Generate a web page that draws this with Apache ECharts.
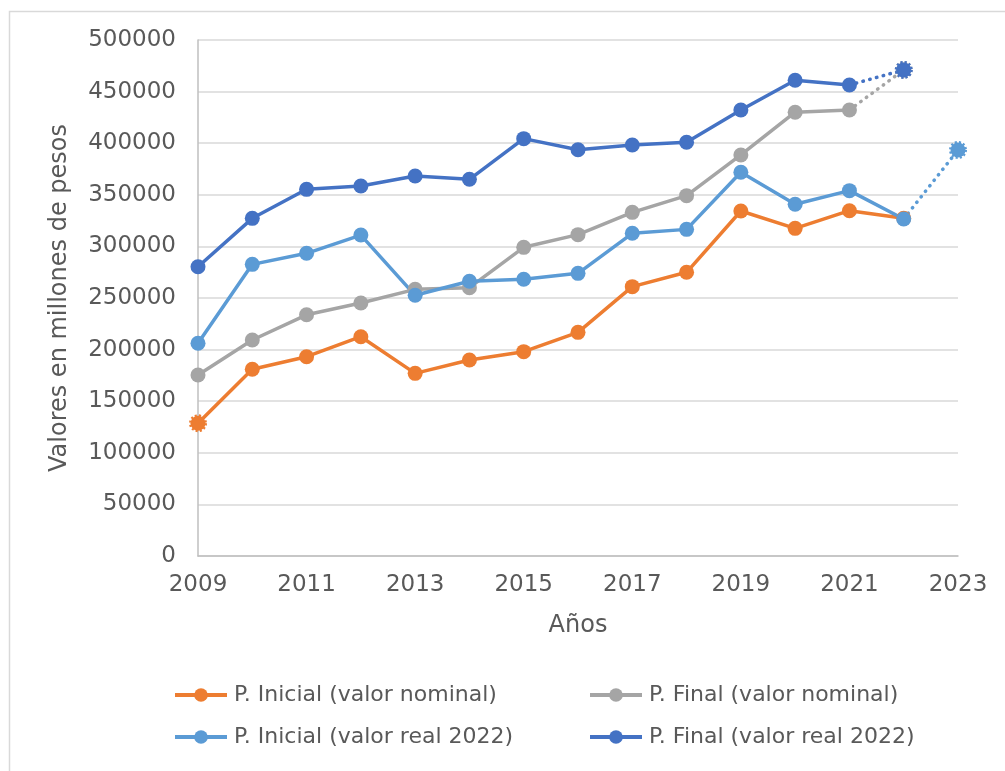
<!DOCTYPE html>
<html>
<head>
<meta charset="utf-8">
<script src="https://cdn.jsdelivr.net/npm/echarts@6/dist/echarts.min.js"></script>
<style>html,body{margin:0;padding:0;background:#fff;}#c{width:1005px;height:771px;}</style>
</head>
<body>
<div id="c"></div>
<script>
const years = [2009,2010,2011,2012,2013,2014,2015,2016,2017,2018,2019,2020,2021,2022];
const xTicks = [2009,2011,2013,2015,2017,2019,2021,2023];
const yTicks = [0,50000,100000,150000,200000,250000,300000,350000,400000,450000,500000];
const seriesNames = ['P. Inicial (valor nominal)','P. Final (valor nominal)','P. Inicial (valor real 2022)','P. Final (valor real 2022)'];
const inicialNominal = [128600,180900,193100,212500,177000,189900,198000,216700,261000,274900,334300,317500,334600,327200];
const finalNominal   = [175400,209300,233700,245200,258400,260000,299100,311400,333000,349200,388600,430000,432200];
const inicialReal    = [206100,282600,293300,311000,252600,266200,268100,273900,312700,316500,371800,340800,354000,326600];
const finalReal      = [280300,327200,355300,358500,368200,365000,404400,393700,398300,400900,432200,461000,456400];
// projected (dotted) segments
const finalNominalProjYears = [2021,2022];
const finalNominalProj = [432200,471000];
const finalRealProjYears = [2021,2022];
const finalRealProj = [456400,471000];
const inicialRealProjYears = [2022,2023];
const inicialRealProj = [326600,393400];

const colors = ['#ED7D31','#A5A5A5','#5B9BD5','#4472C4'];
const FONT = 'DejaVu Sans';
const TXT = '#595959';

function pairs(xs, ys){ return ys.map((v,i)=>[xs[i], v]); }

function solid(name, vals, color, dottedFirst){
  const data = pairs(years, vals).map((p,i)=>{
    if (dottedFirst && i===0) return {value:p, itemStyle:{borderType:[2,2], borderWidth:3, borderColor:color}};
    return p;
  });
  return {name, type:'line', data, color, symbol:'circle', symbolSize:15,
    lineStyle:{width:3.5, color}, itemStyle:{color}, z:3, animation:false};
}
function proj(xs, vals, color){
  const data = pairs(xs, vals).map((p,i)=> i===0 ? {value:p, symbol:'none'} :
     {value:p, itemStyle:{color, borderColor:color, borderWidth:3, borderType:[2,2]}});
  return {type:'line', data, symbol:'circle', symbolSize:15, showSymbol:true,
    lineStyle:{width:3.5, color, type:[0.5,6.5], cap:'round'}, itemStyle:{color}, z:2, animation:false, silent:true};
}

const legendPos = [[173,684],[588,684],[173,726],[588,726]];
const legends = seriesNames.map((n,i)=>({
  data:[n], left:legendPos[i][0], top:legendPos[i][1], padding:0,
  itemWidth:52, itemHeight:17, selectedMode:false,
  lineStyle:{width:4},
  textStyle:{fontFamily:FONT, fontSize:22, color:TXT, padding:[0,0,0,2]}
}));

const chart = echarts.init(document.getElementById('c'));
chart.setOption({
  backgroundColor:'#fff',
  animation:false,
  graphic:[{type:'rect', shape:{x:9.5,y:11.5,width:1100,height:900}, style:{fill:'none', stroke:'#d9d9d9', lineWidth:1.5}, silent:true}],
  legend: legends,
  grid:{left:198, right:47, top:40, bottom:215},
  xAxis:{type:'value', min:xTicks[0], max:xTicks[xTicks.length-1], interval:2,
    name:'Años', nameLocation:'middle', nameGap:58,
    nameTextStyle:{fontFamily:FONT, fontSize:24, color:TXT},
    axisLine:{show:true, lineStyle:{color:'#bfbfbf', width:1.5}},
    axisTick:{show:false}, splitLine:{show:false},
    axisLabel:{fontFamily:FONT, fontSize:23, color:TXT, margin:18, formatter:v=>String(v)}},
  yAxis:{type:'value', min:yTicks[0], max:yTicks[yTicks.length-1], interval:50000,
    name:'Valores en millones de pesos', nameLocation:'middle', nameGap:126,
    nameTextStyle:{fontFamily:FONT, fontSize:24, color:TXT},
    axisLine:{show:true, lineStyle:{color:'#bfbfbf', width:1.5}},
    axisTick:{show:false},
    splitLine:{show:true, lineStyle:{color:'#d9d9d9', width:1.5}},
    axisLabel:{fontFamily:FONT, fontSize:23, color:TXT, margin:22, formatter:v=>String(v)}},
  series:[
    proj(finalNominalProjYears, finalNominalProj, colors[1]),
    proj(finalRealProjYears, finalRealProj, colors[3]),
    proj(inicialRealProjYears, inicialRealProj, colors[2]),
    solid(seriesNames[0], inicialNominal, colors[0], true),
    solid(seriesNames[1], finalNominal, colors[1], false),
    solid(seriesNames[2], inicialReal, colors[2], false),
    solid(seriesNames[3], finalReal, colors[3], false)
  ]
});
</script>
</body>
</html>
